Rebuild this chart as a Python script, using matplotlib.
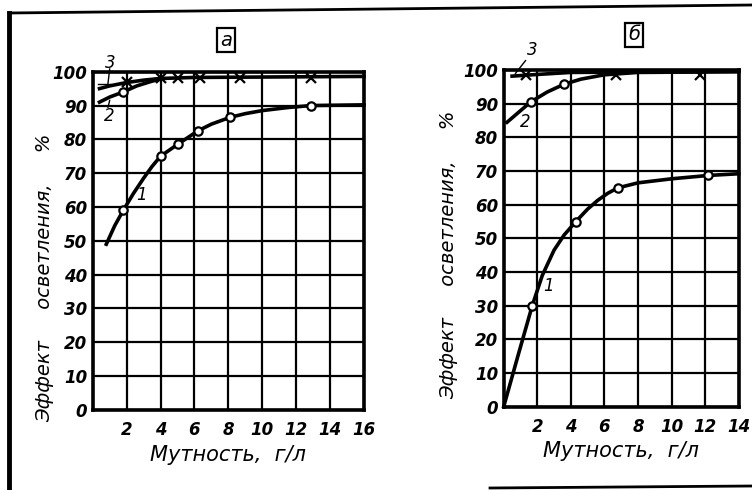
import matplotlib.pyplot as plt

# --- график а ---
a_lin1_x = [0.8, 1.3, 1.8, 2.4, 3.0, 3.5, 4.0, 5.0, 6.2, 7.0, 8.1, 9.0, 10.0, 11.5, 12.9, 16.0]
a_lin1_y = [49, 54.5, 59, 64, 68.5, 72, 75, 78.5, 82.5, 84.5, 86.5, 87.6, 88.5, 89.4, 90, 90.2]
a_pt1_x = [1.8, 4.0, 5.0, 6.2, 8.1, 12.9]
a_pt1_y = [59, 75, 78.5, 82.5, 86.5, 90]

a_lin2_x = [0.4, 1.0, 1.8, 2.6, 3.5, 4.0]
a_lin2_y = [91, 92.5, 94, 95.8, 97.2, 97.8]
a_pt2_x = [1.8]
a_pt2_y = [94]

a_lin3_x = [0.4, 1.0, 2.0, 3.0, 4.0, 6.0, 16.0]
a_lin3_y = [95, 95.8, 96.8, 97.5, 98, 98.3, 98.6]
a_pt3_x = [2.0, 4.0, 5.0, 6.3, 8.7, 12.9]
a_pt3_y = [97, 98, 98, 98, 98, 98]

# --- график б ---
b_lin1_x = [0, 0.9, 1.7, 2.3, 3.0, 3.6, 4.3, 5.0, 5.6, 6.2, 6.8, 8.0, 10.0, 12.2, 14.0]
b_lin1_y = [0, 16, 30, 39, 46.5, 51, 55, 58.7, 61.3, 63.4, 65, 66.5, 67.7, 68.7, 69.2]
b_pt1_x = [1.7, 4.3, 6.8, 12.2]
b_pt1_y = [30, 55, 65, 68.7]

b_lin2_x = [0.2, 0.9, 1.6, 2.6, 3.6, 4.6, 6.0, 8.0, 14.0]
b_lin2_y = [84.5, 87.5, 90.5, 93.5, 95.8, 97.3, 98.6, 99.3, 99.5]
b_pt2_x = [1.6, 3.6]
b_pt2_y = [90.5, 95.8]

b_lin3_x = [0.5, 2.0, 4.0, 14.0]
b_lin3_y = [98.2, 98.7, 99.3, 99.6]
b_pt3_x = [1.3, 6.7, 11.7]
b_pt3_y = [98.4, 98.5, 98.5]

ytiques = [0, 10, 20, 30, 40, 50, 60, 70, 80, 90, 100]

fonte = dict(family='DejaVu Sans', style='italic')


def painel(ax, xmax, curvas, ylab_pos):
    ax.set_xlim(0, xmax)
    ax.set_ylim(0, 100)
    ax.set_xticks(range(2, xmax + 1, 2))
    ax.set_yticks(ytiques)
    ax.set_xticklabels([str(v) for v in range(2, xmax + 1, 2)], fontsize=12, weight='bold', **fonte)
    ax.set_yticklabels([str(v) for v in ytiques], fontsize=12, weight='bold', **fonte)
    ax.tick_params(length=0, pad=4)
    ax.tick_params(axis='x', pad=8)
    ax.grid(True, color='black', linewidth=1.6)
    for s in ax.spines.values():
        s.set_linewidth(2.6)
    for lx, ly, px, py, mk in curvas:
        ax.plot(lx, ly, color='black', linewidth=2.6, clip_on=False, zorder=3)
        if mk == 'o':
            ax.plot(px, py, 'o', color='black', mfc='white', ms=6, mew=1.6, clip_on=False, zorder=4)
        else:
            ax.plot(px, py, 'x', color='black', ms=7, mew=1.6, clip_on=False, zorder=4)
    ax.set_xlabel('Мутность,  г/л', fontsize=15, labelpad=4, **fonte)
    ax.set_ylabel('Эффект     осветления,     %', fontsize=14, **fonte)
    ax.yaxis.set_label_coords(*ylab_pos)


fig = plt.figure(figsize=(7.52, 4.9), dpi=100)

ax1 = fig.add_axes([0.1233, 0.1633, 0.3608, 0.6904])
painel(ax1, 16, [(a_lin1_x, a_lin1_y, a_pt1_x, a_pt1_y, 'o'),
                 (a_lin2_x, a_lin2_y, a_pt2_x, a_pt2_y, 'o'),
                 (a_lin3_x, a_lin3_y, a_pt3_x, a_pt3_y, 'x')], (-0.143, 0.39))
ax1.text(2.9, 63.5, '1', fontsize=12, ha='center', va='center', **fonte)
ax1.text(0.95, 86.8, '2', fontsize=12, ha='center', va='center', **fonte)
ax1.text(1.05, 102.5, '3', fontsize=12, ha='center', va='center', clip_on=False, **fonte)
ax1.plot([1.0, 0.9], [100.8, 96.5], color='black', lw=1, clip_on=False)
ax1.plot([0.3, 1.0], [96.5, 96.5], color='black', lw=1, clip_on=False)
ax1.plot([0.9, 1.0], [89.5, 91.5], color='black', lw=1, clip_on=False)

ax2 = fig.add_axes([0.6698, 0.170, 0.3125, 0.687])
painel(ax2, 14, [(b_lin1_x, b_lin1_y, b_pt1_x, b_pt1_y, 'o'),
                 (b_lin2_x, b_lin2_y, b_pt2_x, b_pt2_y, 'o'),
                 (b_lin3_x, b_lin3_y, b_pt3_x, b_pt3_y, 'x')], (-0.195, 0.45))
ax2.text(2.65, 36, '1', fontsize=12, ha='center', va='center', **fonte)
ax2.text(1.3, 84.5, '2', fontsize=12, ha='center', va='center', **fonte)
ax2.text(1.7, 106, '3', fontsize=12, ha='center', va='center', clip_on=False, **fonte)
ax2.plot([0.7, 1.3], [99.0, 102.8], color='black', lw=1, clip_on=False)

# подписи графиков в рамках
fig.text(226 / 752, 1 - 40 / 490, 'а', fontsize=14, ha='center', va='center', **fonte,
         bbox=dict(boxstyle='square,pad=0.15', fc='white', ec='black', lw=1.6))
fig.text(634 / 752, 1 - 35 / 490, 'б', fontsize=14, ha='center', va='center', **fonte,
         bbox=dict(boxstyle='square,pad=0.15', fc='white', ec='black', lw=1.6))

# рамка листа
fig.add_artist(plt.Line2D([9 / 752, 9 / 752], [0, 1 - 13 / 490], color='black', lw=3.5))
fig.add_artist(plt.Line2D([9 / 752, 1], [1 - 13 / 490, 1 - 5 / 490], color='black', lw=2))
fig.add_artist(plt.Line2D([490 / 752, 1], [1 - 488 / 490, 1 - 486 / 490], color='black', lw=2))

fig.savefig('out.png', dpi=100)
